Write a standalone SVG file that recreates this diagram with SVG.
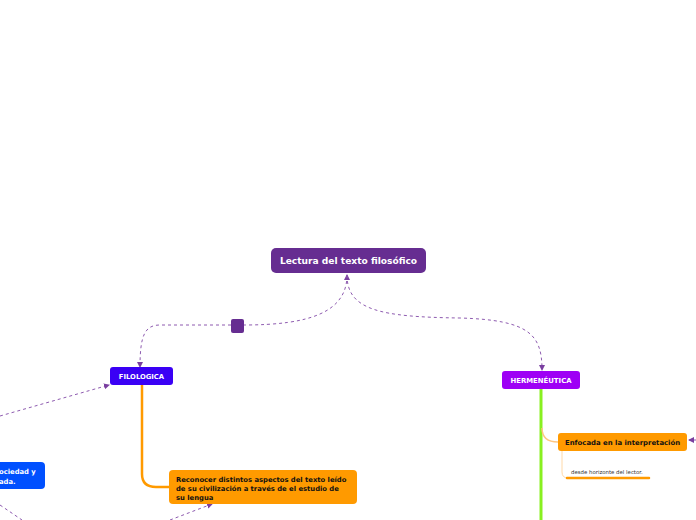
<svg xmlns="http://www.w3.org/2000/svg" width="696" height="520" viewBox="0 0 696 520">
<defs>
<style>
.t{font-family:"DejaVu Sans",Verdana,sans-serif;font-weight:bold}
.w{fill:#ffffff}
.k{fill:#111111}
.dash{fill:none;stroke:#8e5bb0;stroke-width:1;stroke-dasharray:3,3}
</style>
<marker id="ah" viewBox="0 0 6 6" refX="5" refY="3" markerWidth="6" markerHeight="6" orient="auto-start-reverse" markerUnits="userSpaceOnUse">
<path d="M0,0 L6,3 L0,6 z" fill="#7a3fa0"/>
</marker>
</defs>
<rect width="696" height="520" fill="#ffffff"/>
<g id="connectors">
<path class="dash" d="M347,275 C347,312 310,325 244,325" marker-start="url(#ah)"/>
<path class="dash" d="M231,325 L160,325 C145,325 140,335 140,367" marker-end="url(#ah)"/>
<path class="dash" d="M347,275 C347,310 380,317 460,318 C530,320 542,335 542,370" marker-end="url(#ah)"/>
<path class="dash" d="M0,416 L109,385" marker-end="url(#ah)"/>
<path class="dash" d="M696,440 L689,440" marker-end="url(#ah)"/>
<path class="dash" d="M0,505 L22,520"/>
<path class="dash" d="M170,520 L212,504" marker-end="url(#ah)"/>
<path d="M142,385 L142,474 Q142,487 156,487 L170,487" fill="none" stroke="#ff9a00" stroke-width="2.5"/>
<path d="M541,389 L541,520" fill="none" stroke="#88f020" stroke-width="3"/>
<path d="M542,428 Q542,442 558,442" fill="none" stroke="#ffc680" stroke-width="1.5"/>
<path d="M562,451 L562,472 Q562,478 568,478" fill="none" stroke="#ffd9a8" stroke-width="1"/>
<path d="M567,478 L649,478" fill="none" stroke="#ff9a00" stroke-width="2.5" stroke-linecap="round"/>
</g>
<g id="root">
<rect x="271" y="248" width="155" height="25" rx="5" fill="#662d91"/>
<text class="t w" x="348.5" y="264" font-size="9.1" text-anchor="middle">Lectura del texto filosófico</text>
</g>
<g id="junction">
<rect x="231" y="319" width="13" height="14" rx="2" fill="#662d91"/>
</g>
<g id="filologica">
<rect x="110" y="367" width="63" height="18" rx="3" fill="#3a00f5"/>
<text class="t w" x="141.5" y="379" font-size="6.8" text-anchor="middle">FILOLOGICA</text>
</g>
<g id="reconocer">
<rect x="169" y="470" width="188" height="34" rx="4" fill="#ff9a00"/>
<text class="t k" font-size="6.8"><tspan x="176" y="482">Reconocer distintos aspectos del texto leído</tspan><tspan x="176" y="491">de su civilización a través de el estudio de</tspan><tspan x="176" y="500">su lengua</tspan></text>
</g>
<g id="hermeneutica">
<rect x="502" y="371" width="78" height="18" rx="3" fill="#9e00f5"/>
<text class="t w" x="541" y="383" font-size="6.9" text-anchor="middle">HERMENÉUTICA</text>
</g>
<g id="enfocada">
<rect x="558" y="433" width="129" height="18" rx="3" fill="#ff9a00"/>
<text class="t k" x="565" y="445" font-size="6.9">Enfocada en la interpretación</text>
</g>
<g id="desde">
<text x="571" y="474" font-size="5.4" font-family="DejaVu Sans,Verdana,sans-serif" fill="#333333">desde horizonte del lector.</text>
</g>
<g id="sociedad">
<rect x="-20" y="462" width="65" height="27" rx="4" fill="#0050ff"/>
<text class="t w" font-size="6.8"><tspan x="-1" y="474">ociedad y</tspan><tspan x="-1" y="484">ada.</tspan></text>
</g>
</svg>
